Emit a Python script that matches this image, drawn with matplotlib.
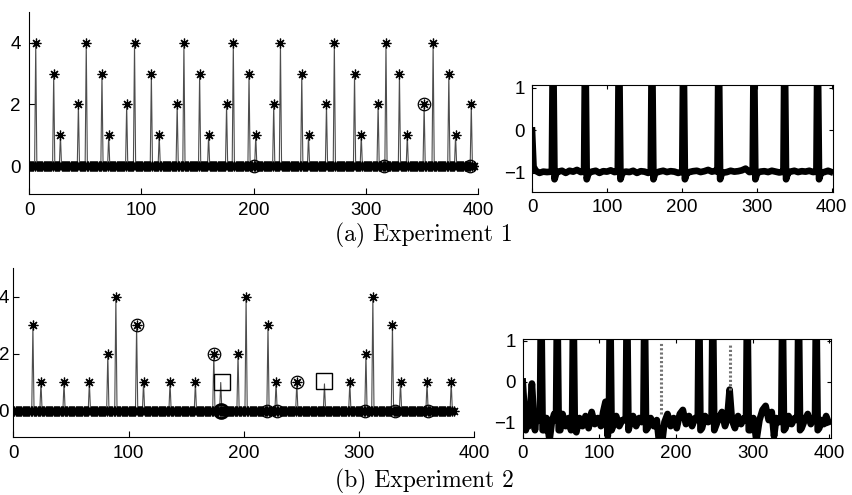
import numpy as np
import matplotlib
matplotlib.use('Agg')
import matplotlib.pyplot as plt

# ---- experiment 1: decoded symbol sequence (left) ----
n1 = 397
peaks_x1 = [6, 22, 28, 44, 51, 65, 71, 87, 94, 109, 116, 132, 138, 152, 160, 176,
            182, 196, 202, 218, 224, 243, 249, 265, 272, 290, 296, 311, 318, 330,
            337, 352, 360, 374, 380, 394]
peaks_h1 = [4, 3, 1, 2, 4, 3, 1, 2, 4, 3, 1, 2, 4, 3, 1, 2,
            4, 3, 1, 2, 4, 3, 1, 2, 4, 3, 1, 2, 4, 3,
            1, 2, 4, 3, 1, 2]
circ_x1 = [200, 316, 393, 352]
circ_y1 = [0, 0, 0, 2]

# ---- experiment 1: membrane trace (right) ----
spikes1 = [28, 71, 116, 160, 202, 249, 296, 337, 381]
spike_dx1 = [-1.5, 0, 2, 4.5]
spike_dy1 = [-0.97, 2.5, -1.15, -1.0]
base_x1 = [0, 2, 5, 10, 15, 20, 35, 40, 45, 50, 55, 60, 65, 80, 85, 90, 95, 100,
           105, 110, 125, 130, 135, 140, 145, 150, 155, 170, 175, 180, 185, 190,
           195, 210, 215, 220, 225, 230, 235, 240, 245, 260, 265, 270, 275, 280,
           285, 290, 305, 310, 315, 320, 325, 330, 345, 350, 355, 360, 365, 370,
           375, 390, 395, 398]
base_y1 = [0.0, -0.85, -0.95, -1.0, -0.97, -0.98, -0.97, -0.95, -1.0, -0.95,
           -0.97, -0.93, -0.98, -0.97, -0.95, -1.0, -0.96, -0.97, -0.94, -0.98,
           -0.97, -0.98, -0.95, -1.0, -0.96, -0.97, -1.0, -0.97, -0.95, -0.98,
           -0.96, -0.97, -1.0, -0.98, -0.96, -0.95, -0.98, -0.96, -0.93, -0.97,
           -0.95, -0.98, -0.95, -0.97, -0.96, -0.94, -0.9, -0.98, -0.97, -0.96,
           -0.98, -0.95, -0.97, -0.99, -0.97, -0.95, -0.98, -0.96, -0.97, -0.95,
           -0.98, -0.98, -0.95, -0.97]

# ---- experiment 2: decoded symbol sequence (left) ----
n2 = 383
peaks_x2 = [17, 24, 44, 66, 82, 89, 107, 113, 136, 158, 174, 195, 202, 221, 228,
            246, 292, 306, 312, 329, 336, 359, 380]
peaks_h2 = [3, 1, 1, 1, 2, 4, 3, 1, 1, 1, 2, 2, 4, 3, 1,
            1, 1, 2, 4, 3, 1, 1, 1]
missed_x2 = [180, 270]
missed_h2 = [1.0, 0.95]
circ_x2 = [107, 174, 220, 229, 246, 305, 331, 360]
circ_y2 = [3, 2, 0, 0, 1, 0, 0, 0]
bold_circ_x2 = [180]
bold_circ_y2 = [0]
sq_x2 = [181, 269.5]
sq_y2 = [1.0, 1.05]

# ---- experiment 2: membrane trace (right) ----
spikes2 = [24, 45, 66, 114, 136, 159, 230, 248, 293, 339, 360, 383]
spike_dx2 = [-1.5, 0, 2]
spike_dy2 = [-0.95, 2.5, -1.2]
base_x2 = [0, 2, 4, 6, 8, 10, 12, 14, 16, 18, 28, 31, 35, 38, 41, 49, 52, 56, 60,
           63, 70, 74, 78, 82, 86, 90, 94, 98, 102, 105, 108, 111, 118, 122, 126,
           130, 140, 144, 148, 152, 155, 163, 167, 171, 175, 178, 182, 185, 189,
           193, 197, 201, 205, 209, 213, 217, 221, 225, 234, 238, 242, 252, 256,
           260, 264, 267, 270, 273, 277, 281, 285, 289, 297, 301, 305, 309, 313,
           317, 321, 325, 328, 331, 335, 343, 347, 351, 355, 364, 368, 372, 376,
           379, 387, 390, 393, 396, 399]
base_y2 = [0.0, -0.6, -1.2, -0.7, -1.1, -0.6, -0.05, -0.7, -1.2, -0.8, -1.2, -0.9,
           -1.45, -1.0, -0.8, -1.2, -0.8, -1.1, -0.9, -1.2, -1.25, -0.9, -1.1,
           -0.85, -1.15, -0.75, -1.05, -0.9, -1.1, -0.75, -0.5, -1.35, -1.1, -0.85,
           -1.1, -0.95, -1.05, -0.85, -1.1, -0.9, -1.0, -1.15, -0.9, -1.1, -0.95,
           -1.5, -1.5, -1.0, -0.8, -1.1, -0.9, -1.15, -0.8, -0.7, -1.05, -0.85,
           -1.1, -0.9, -1.15, -0.85, -1.0, -1.1, -0.9, -0.75, -1.1, -0.9, -0.2,
           -0.95, -1.15, -0.85, -1.05, -0.9, -1.2, -0.9, -1.45, -0.95, -0.7, -0.6,
           -0.95, -0.75, -1.35, -0.9, -1.0, -1.15, -0.85, -1.05, -0.9, -1.15, -0.95,
           -0.8, -1.05, -0.9, -1.15, -0.95, -1.05, -0.85, -1.0]
dash_x2 = [180, 270]
dash_lo2 = [-0.8, -0.2]
dash_hi2 = [0.95, 0.95]

TICK_FONT = 'Liberation Sans'
TICK_SIZE = 13.5
AST = (8, 2, 0)


def symbol_series(n, px, ph):
    y = np.zeros(n)
    y[px] = ph
    return np.arange(n), y


def trace_series(bx, by, spikes, dx, dy):
    lo, hi = min(dx) - 1, max(dx) + 1
    pts = [(x, v) for x, v in zip(bx, by)
           if not any(s + lo < x < s + hi for s in spikes)]
    for s in spikes:
        pts += [(s + a, b) for a, b in zip(dx, dy)]
    pts.sort()
    return [p[0] for p in pts], [p[1] for p in pts]


def style_left(ax, ypad=6):
    ax.set_xlim(0, 400)
    ax.set_ylim(-0.9, 5)
    ax.set_xticks([0, 100, 200, 300, 400])
    ax.set_yticks([0, 2, 4])
    ax.spines['top'].set_visible(False)
    ax.spines['right'].set_visible(False)
    ax.tick_params(direction='in', length=4, width=0.8, pad=6,
                   labelsize=TICK_SIZE)
    ax.tick_params(axis='y', pad=ypad)
    for lab in ax.get_xticklabels() + ax.get_yticklabels():
        lab.set_fontfamily(TICK_FONT)


def style_right(ax, xmax, ylo, yhi):
    ax.set_xlim(0, xmax)
    ax.set_ylim(ylo, yhi)
    ax.set_xticks([0, 100, 200, 300, 400])
    ax.set_yticks([-1, 0, 1])
    ax.tick_params(direction='in', length=3, width=0.8, pad=5,
                   top=True, right=True, labelsize=TICK_SIZE)
    for lab in ax.get_xticklabels() + ax.get_yticklabels():
        lab.set_fontfamily(TICK_FONT)


def draw_symbols(ax, x, y):
    ax.plot(x, y, '-', color='0.3', lw=0.8, zorder=2)
    ax.plot(x, y, ls='none', marker=AST, ms=7, mew=0.9, color='k', zorder=3)


fig = plt.figure(figsize=(8.53, 4.95), dpi=100)

# (a) left
ax1 = fig.add_axes([0.034, 0.6087, 0.5264, 0.3667])
x, y = symbol_series(n1, peaks_x1, peaks_h1)
draw_symbols(ax1, x, y)
ax1.plot(circ_x1, circ_y1, 'o', ms=9, mfc='none', mec='k', mew=0.9, zorder=4)
style_left(ax1)

# (a) right
ax2 = fig.add_axes([0.6237, 0.6121, 0.3523, 0.2162])
tx, ty = trace_series(base_x1, base_y1, spikes1, spike_dx1, spike_dy1)
ax2.plot(tx, ty, '-', color='k', lw=4.8, solid_joinstyle='round')
style_right(ax2, 401, -1.45, 1.07)

# (b) left
ax3 = fig.add_axes([0.0156, 0.1179, 0.5404, 0.3397])
x, y = symbol_series(n2, peaks_x2, peaks_h2)
draw_symbols(ax3, x, y)
for mx, mh in zip(missed_x2, missed_h2):
    ax3.plot([mx - 1, mx, mx + 1], [0, mh, 0], '-', color='0.3', lw=0.8, zorder=2)
ax3.plot(circ_x2, circ_y2, 'o', ms=9, mfc='none', mec='k', mew=0.9, zorder=4)
ax3.plot(bold_circ_x2, bold_circ_y2, 'o', ms=10, mfc='none', mec='k', mew=2, zorder=4)
ax3.plot(sq_x2, sq_y2, 's', ms=11, mfc='none', mec='k', mew=1.0, zorder=4)
style_left(ax3, ypad=3)

# (b) right
ax4 = fig.add_axes([0.6128, 0.1145, 0.3611, 0.2])
tx, ty = trace_series(base_x2, base_y2, spikes2, spike_dx2, spike_dy2)
ax4.plot(tx, ty, '-', color='k', lw=4.8, solid_joinstyle='round')
ax4.vlines(dash_x2, dash_lo2, dash_hi2, colors='0.45', lw=2.2,
           linestyles=(0, (0.7, 0.7)))
style_right(ax4, 402, -1.4, 1.04)

fig.text(424 / 853, 1 - 235 / 495, '(a) Experiment 1', family='cmr10', fontsize=17,
         ha='center', va='center')
fig.text(424 / 853, 1 - 481 / 495, '(b) Experiment 2', family='cmr10', fontsize=17,
         ha='center', va='center')

fig.savefig('out.png', dpi=100)
